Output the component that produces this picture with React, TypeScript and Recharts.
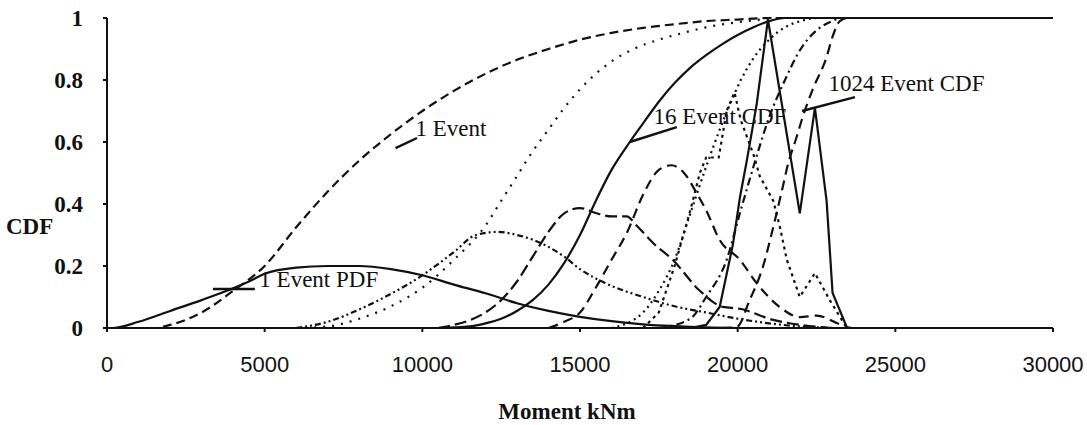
import { LineChart, Line, XAxis, YAxis, ReferenceLine, ReferenceDot } from 'recharts'

// [moment kNm, probability]
const cdf1: number[][] = [
  [0, 0], [1500, 0], [2000, 0.01], [3000, 0.05], [4000, 0.12], [5000, 0.2], [6000, 0.325], [7000, 0.44],
  [8000, 0.54], [9000, 0.625], [10000, 0.7], [11000, 0.765], [12000, 0.82], [13000, 0.865], [14000, 0.9],
  [15000, 0.93], [16000, 0.952], [17000, 0.968], [18000, 0.98], [19000, 0.99], [20000, 0.995],
  [21000, 1], [30000, 1]
]
const cdf4: number[][] = [
  [6000, 0], [7000, 0.005], [8000, 0.03], [9000, 0.07], [10000, 0.13], [11000, 0.22], [12000, 0.33],
  [12500, 0.41], [13000, 0.49], [13500, 0.57], [14000, 0.64], [14500, 0.71], [15000, 0.77], [15500, 0.82],
  [16000, 0.86], [16700, 0.9], [17500, 0.93], [18200, 0.95], [19000, 0.97], [20300, 0.99], [21500, 1], [30000, 1]
]
const cdf16: number[][] = [
  [10500, 0], [11500, 0.005], [12000, 0.015], [12500, 0.03], [13000, 0.055], [13500, 0.09], [14000, 0.14],
  [14500, 0.21], [15000, 0.3], [15500, 0.41], [16000, 0.51], [16580, 0.6], [17000, 0.66], [17500, 0.73],
  [18000, 0.79], [18500, 0.84], [19000, 0.88], [19500, 0.915], [20000, 0.945], [20500, 0.97], [21000, 0.99],
  [21500, 1], [30000, 1]
]
const cdf64: number[][] = [
  [16000, 0], [17000, 0.05], [17500, 0.12], [18000, 0.22], [18500, 0.37], [19000, 0.52], [19430, 0.64],
  [19750, 0.72], [20100, 0.8], [20500, 0.87], [21000, 0.93], [21500, 0.97], [22000, 0.99], [22500, 1], [30000, 1]
]
const cdf256: number[][] = [
  [17500, 0], [18500, 0.03], [19000, 0.1], [19650, 0.22], [20070, 0.37], [20500, 0.52], [21000, 0.68],
  [21500, 0.8], [22000, 0.9], [22500, 0.96], [23000, 0.99], [23300, 1], [30000, 1]
]
const cdf1024: number[][] = [
  [19500, 0], [19970, 0.003], [20380, 0.09], [20800, 0.197], [21130, 0.326], [21430, 0.455], [21600, 0.53],
  [21870, 0.616], [22060, 0.68], [22380, 0.77], [22820, 0.874], [23010, 0.94], [23240, 0.99], [23500, 1], [30000, 1]
]

const pdf1: number[][] = [
  [0, 0], [200, 0], [1000, 0.02], [2000, 0.055], [3000, 0.09], [4000, 0.128], [4500, 0.15], [5000, 0.175],
  [6000, 0.195], [7000, 0.2], [8000, 0.2], [9000, 0.19], [10000, 0.17], [11000, 0.14], [12000, 0.112],
  [13000, 0.08], [14000, 0.055], [15000, 0.036], [16000, 0.022], [17000, 0.012], [18000, 0.006],
  [19000, 0.002], [20000, 0]
]
const pdf4: number[][] = [
  [6000, 0], [7000, 0.02], [8000, 0.06], [9000, 0.11], [10000, 0.17], [11000, 0.245], [11700, 0.3],
  [12400, 0.31], [13000, 0.3], [13500, 0.285], [14500, 0.23], [15000, 0.19], [15800, 0.145], [17000, 0.1],
  [18000, 0.07], [19000, 0.05], [20000, 0.03], [21000, 0.015], [22000, 0.005], [23000, 0]
]
const pdf16: number[][] = [
  [10500, 0], [11000, 0.01], [11500, 0.025], [12000, 0.05], [12500, 0.09], [13000, 0.15], [13500, 0.23],
  [14000, 0.31], [14500, 0.37], [15000, 0.387], [15530, 0.37], [16000, 0.36], [16480, 0.36], [16800, 0.33],
  [17310, 0.275], [17940, 0.22], [18800, 0.12], [19530, 0.068], [20070, 0.062], [21130, 0.026], [22000, 0.01],
  [23000, 0]
]
const pdf64: number[][] = [
  [14000, 0], [14500, 0.02], [15000, 0.05], [15500, 0.13], [16000, 0.22], [16500, 0.31], [17000, 0.43],
  [17500, 0.51], [17900, 0.525], [18300, 0.5], [18700, 0.435], [19000, 0.38], [19430, 0.284], [20070, 0.22],
  [20600, 0.145], [21330, 0.068], [21970, 0.035], [22500, 0.04], [23140, 0.016], [23500, 0]
]
const pdf256: number[][] = [
  [17000, 0], [17500, 0.05], [18000, 0.2], [18500, 0.38], [18800, 0.5], [19000, 0.55], [19400, 0.55],
  [19650, 0.7], [19900, 0.76], [20100, 0.67], [20500, 0.56], [20700, 0.49], [21130, 0.41], [21330, 0.33],
  [21560, 0.22], [21970, 0.1], [22450, 0.177], [22920, 0.09], [23400, 0.01], [23600, 0]
]
const pdf1024: number[][] = [
  [18500, 0], [19000, 0.01], [19430, 0.068], [19850, 0.27], [20070, 0.42], [20290, 0.54], [20600, 0.72],
  [20960, 0.995], [21970, 0.37], [22450, 0.71], [22820, 0.41], [23010, 0.113], [23460, 0.003], [23600, 0]
]

const xTicks = [0, 5000, 10000, 15000, 20000, 25000, 30000]
const yTicks = [0, 0.2, 0.4, 0.6, 0.8, 1]

const toPoints = (arr: number[][]) => arr.map(([x, y]) => ({ x, y }))

const INK = '#111'
const serif = '"Liberation Serif", "DejaVu Serif", serif'

const series = [
  { id: 'cdf1', data: cdf1, dash: '9 5', type: 'monotone' },
  { id: 'cdf4', data: cdf4, dash: '2 7', type: 'monotone' },
  { id: 'cdf16', data: cdf16, dash: undefined, type: 'monotone' },
  { id: 'cdf64', data: cdf64, dash: '2 4', type: 'monotone' },
  { id: 'cdf256', data: cdf256, dash: '8 4 2 4', type: 'monotone' },
  { id: 'cdf1024', data: cdf1024, dash: '10 6', type: 'monotone' },
  { id: 'pdf1', data: pdf1, dash: undefined, type: 'monotone' },
  { id: 'pdf4', data: pdf4, dash: '6 3 2 3 2 3', type: 'monotone' },
  { id: 'pdf16', data: pdf16, dash: '12 5', type: 'monotone' },
  { id: 'pdf64', data: pdf64, dash: '10 6', type: 'monotone' },
  { id: 'pdf256', data: pdf256, dash: '3 4', type: 'linear' },
  { id: 'pdf1024', data: pdf1024, dash: undefined, type: 'linear' }
]

const notes = [
  { text: '1 Event', x: 9750, y: 0.645, from: [9150, 0.58], to: [9830, 0.613] },
  { text: '16 Event CDF', x: 17300, y: 0.684, from: [16580, 0.6], to: [18070, 0.648] },
  { text: '1024 Event CDF', x: 22850, y: 0.79, from: [22040, 0.7], to: [23720, 0.745] },
  { text: '1 Event PDF', x: 4800, y: 0.158, from: [3360, 0.126], to: [4690, 0.126] }
]

export default function App() {
  return (
    <div style={{ position: 'absolute', left: 0, top: 0, background: '#fff' }}>
      <LineChart width={1087} height={425} margin={{ top: 18, right: 34, left: 47, bottom: 37 }}>
        <XAxis
          dataKey="x"
          type="number"
          domain={[0, 30000]}
          ticks={xTicks}
          allowDuplicatedCategory={false}
          height={60}
          stroke={INK}
          strokeWidth={2}
          tickSize={4}
          tickMargin={24}
          tick={{ fill: INK, fontSize: 22, fontFamily: '"Liberation Sans", Arial, sans-serif' }}
        />
        <YAxis
          dataKey="y"
          type="number"
          domain={[0, 1]}
          ticks={yTicks}
          width={60}
          stroke={INK}
          strokeWidth={2}
          tickSize={4}
          tickMargin={20}
          tickFormatter={(v) => String(v)}
          tick={{ fill: INK, fontSize: 23, fontWeight: 700, fontFamily: serif }}
        />
        {series.map((s) => (
          <Line
            key={s.id}
            data={toPoints(s.data)}
            dataKey="y"
            type={s.type as 'monotone' | 'linear'}
            stroke={INK}
            strokeWidth={2.2}
            strokeDasharray={s.dash}
            dot={false}
            activeDot={false}
            isAnimationActive={false}
          />
        ))}
        {notes.map((n) => (
          <ReferenceLine
            key={'l' + n.text}
            segment={[{ x: n.from[0], y: n.from[1] }, { x: n.to[0], y: n.to[1] }]}
            stroke={INK}
            strokeWidth={2.4}
          />
        ))}
        {notes.map((n) => (
          <ReferenceDot
            key={'t' + n.text}
            x={n.x}
            y={n.y}
            r={1}
            fill="none"
            stroke="none"
            label={{ value: n.text, position: 'right', offset: 0, fill: INK, fontSize: 23, fontFamily: serif }}
          />
        ))}
        <text x={6} y={234} fill={INK} fontSize={23} fontWeight={700} fontFamily={serif}>CDF</text>
        <text x={567} y={419} fill={INK} fontSize={23} fontWeight={700} fontFamily={serif} textAnchor="middle">
          Moment kNm
        </text>
      </LineChart>
    </div>
  )
}
